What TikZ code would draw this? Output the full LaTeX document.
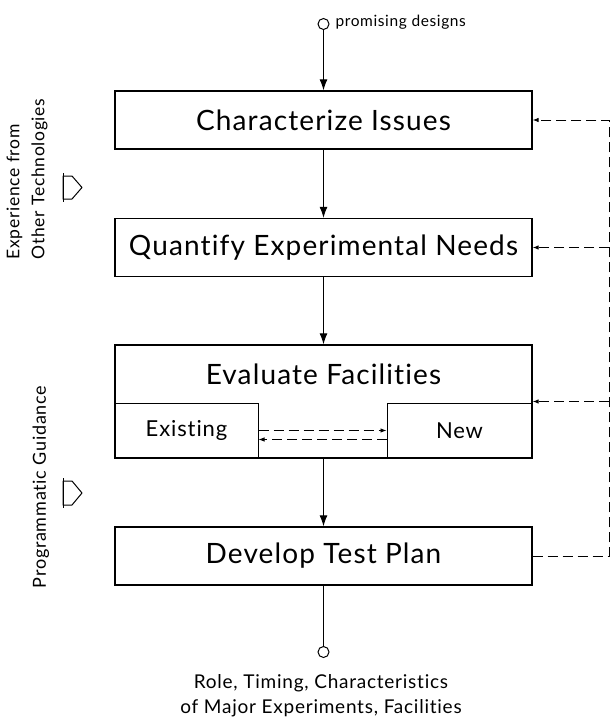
\documentclass[tikz,border=0pt]{standalone}
\usepackage{fontspec}
\setmainfont[LetterSpace=4, Ligatures={NoCommon}]{Lato}
\usetikzlibrary{arrows.meta,positioning,calc}

\begin{document}
\begin{tikzpicture}[x=1pt, y=-1pt,
    procbox/.style={draw, line width=1.3pt, minimum width=417pt, minimum height=58pt,
      inner sep=0pt, font=\fontsize{28}{32}\selectfont},
    subbox/.style={draw, line width=1pt, minimum height=55pt, inner sep=0pt,
      font=\fontsize{22}{26}\selectfont},
    flow/.style={line width=1.1pt, -{Latex[length=11pt,width=8pt]}},
    feed/.style={line width=0.9pt, dash pattern=on 10pt off 5pt, -{Latex[length=6pt,width=4.5pt]}},
    port/.style={draw, circle, line width=1pt, minimum size=11pt, inner sep=0pt},
    hollow/.style={line width=1pt, line join=round}]
    \useasboundingbox (0,0) rectangle (610,720);

    % input
    \node[port] (in) at (323.5,24) {};
    \node[anchor=west, font=\fontsize{15.5}{18}\selectfont] (inlbl) at (332,22) {promising designs};

    % main steps
    \node[procbox] (issues) at (323.5,120) {Characterize Issues};
    \node[procbox] (needs) at (323.5,247.5) {Quantify Experimental Needs};
    \node[procbox, minimum height=113pt] (fac) at (323.5,401.5) {};
    \node[font=\fontsize{28}{32}\selectfont] (factitle) at (323.5,374) {Evaluate Facilities};
    \node[subbox, minimum width=143pt] (exist) at (186.5,430.5) {Existing};
    \node[subbox, minimum width=145pt] (new) at (459.5,430.5) {New};
    \node[procbox] (plan) at (323.5,556) {Develop Test Plan};

    % output
    \node[port] (out) at (323.5,652) {};
    \node[align=center, font=\fontsize{19}{25}\selectfont] (outlbl) at (321,696)
      {Role, Timing, Characteristics\\of Major Experiments, Facilities};

    % flow
    \draw[flow] (in) -- (issues);
    \draw[flow] (issues) -- (needs);
    \draw[flow] (needs) -- (fac);
    \draw[flow] (fac) -- (plan);
    \draw[line width=1.1pt] (plan) -- (out);

    % existing <-> new
    \draw[feed] (exist.east) -- (new.west);
    \draw[feed] ([yshift=-9pt]new.west) -- ([yshift=-9pt]exist.east);

    % feedback loop
    \coordinate (fbbot) at (609,556);
    \coordinate (fbtop) at (609,120);
    \draw[feed] (plan.east) -- (fbbot) -- (fbtop) -- (issues.east);
    \draw[feed] (needs.east -| fbtop) -- (needs.east);
    \draw[feed] (fac.east -| fbtop) -- (fac.east);

    % side inputs
    \node[rotate=90, align=left, font=\fontsize{17.5}{25}\selectfont] (exp) at (27,179)
      {Experience from\\Other Technologies};
    \draw[hollow] (63,176) -- (72,176) -- (82,187.5) -- (72,199) -- (63,199) -- cycle;
    \draw[hollow] (63,173) -- (63,202);
    \node[rotate=90, font=\fontsize{18}{21}\selectfont] (guid) at (41,487) {Programmatic Guidance};
    \draw[hollow] (63,481) -- (72,481) -- (82,493) -- (72,505) -- (63,505) -- cycle;
    \draw[hollow] (63,478) -- (63,508);
\end{tikzpicture}
\end{document}
